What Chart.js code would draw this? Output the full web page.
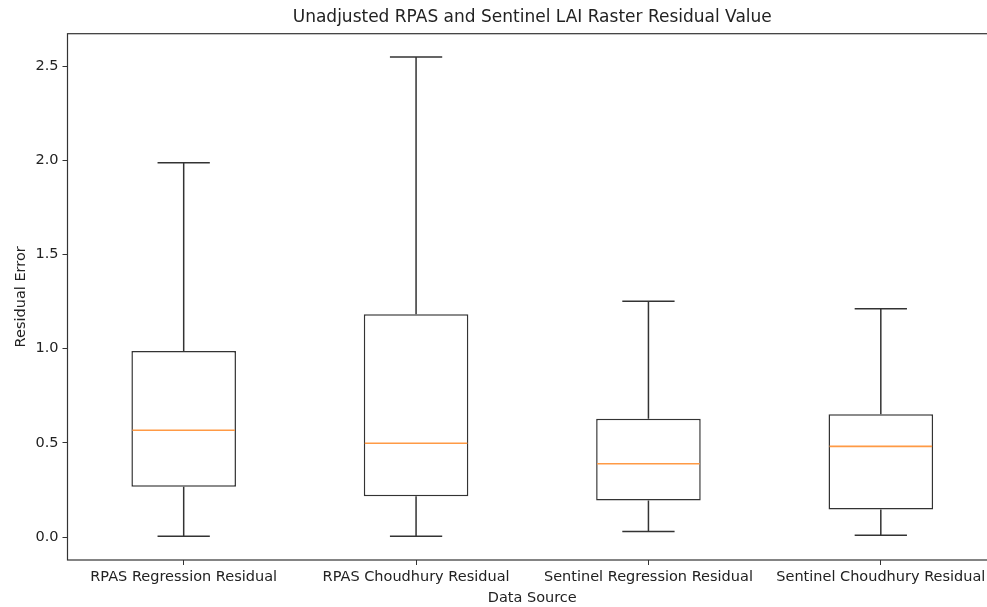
<!DOCTYPE html>
<html>
<head>
<meta charset="utf-8">
<title>Residual boxplot</title>
<script src="https://cdn.jsdelivr.net/npm/chart.js@4.4.1/dist/chart.umd.min.js"></script>
<style>
    html, body { margin: 0; padding: 0; background: #fff; overflow: hidden; }
    #wrap { position: relative; width: 1010px; height: 607px; }
</style>
</head>
<body>
<div id="wrap"><canvas id="boxChart"></canvas></div>
<script>
// box statistics per data source
const categories = [
    'RPAS Regression Residual',
    'RPAS Choudhury Residual',
    'Sentinel Regression Residual',
    'Sentinel Choudhury Residual'
];
const whiskerLow  = [0.004, 0.004, 0.029, 0.010];
const q1          = [0.267, 0.217, 0.194, 0.146];
const median      = [0.567, 0.498, 0.389, 0.481];
const q3          = [0.987, 1.182, 0.628, 0.652];
const whiskerHigh = [1.987, 2.548, 1.251, 1.212];
const yTicks      = [0.0, 0.5, 1.0, 1.5, 2.0, 2.5];

const TITLE = 'Unadjusted RPAS and Sentinel LAI Raster Residual Value';
const LINE = '#333333';
const MEDIAN = '#ff9a45';
const TEXT = '#222222';
const FONT = "'DejaVu Sans', sans-serif";

// whiskers, caps, medians, plot frame and a title centred over the axes
const boxExtras = {
    id: 'boxExtras',
    afterDatasetsDraw(chart) {
        const ctx = chart.ctx;
        const xs = chart.scales.x;
        const ys = chart.scales.y;
        const meta = chart.getDatasetMeta(0);
        ctx.save();
        categories.forEach((cat, i) => {
            const bar = meta.data[i];
            const cx = xs.getPixelForValue(i);
            const half = bar.width / 2;
            const capHalf = half / 2;
            const yHi = ys.getPixelForValue(whiskerHigh[i]);
            const yLo = ys.getPixelForValue(whiskerLow[i]);

            ctx.strokeStyle = LINE;
            ctx.lineWidth = 1.5;
            ctx.beginPath();
            ctx.moveTo(cx, ys.getPixelForValue(q3[i]));
            ctx.lineTo(cx, yHi);
            ctx.moveTo(cx, ys.getPixelForValue(q1[i]));
            ctx.lineTo(cx, yLo);
            ctx.moveTo(cx - capHalf, yHi);
            ctx.lineTo(cx + capHalf, yHi);
            ctx.moveTo(cx - capHalf, yLo);
            ctx.lineTo(cx + capHalf, yLo);
            ctx.stroke();

            const ym = ys.getPixelForValue(median[i]);
            ctx.strokeStyle = MEDIAN;
            ctx.lineWidth = 1.6;
            ctx.beginPath();
            ctx.moveTo(cx - half + 1, ym);
            ctx.lineTo(cx + half - 1, ym);
            ctx.stroke();
        });
        const a = chart.chartArea;
        ctx.strokeStyle = LINE;
        ctx.lineWidth = 1.2;
        ctx.strokeRect(a.left, a.top, a.right - a.left, a.bottom - a.top);

        ctx.fillStyle = TEXT;
        ctx.font = '17px ' + FONT;
        ctx.textAlign = 'center';
        ctx.textBaseline = 'middle';
        ctx.fillText(TITLE, (a.left + a.right) / 2, 18);
        ctx.restore();
    }
};

new Chart(document.getElementById('boxChart'), {
    type: 'bar',
    data: {
        labels: categories,
        datasets: [{
            data: categories.map((c, i) => [q1[i], q3[i]]),
            backgroundColor: '#ffffff',
            borderColor: LINE,
            borderWidth: 1.5,
            borderSkipped: false,
            categoryPercentage: 1.0,
            barPercentage: 0.45
        }]
    },
    options: {
        responsive: true,
        maintainAspectRatio: false,
        animation: false,
        devicePixelRatio: 1,
        layout: { padding: { left: 0, right: 13, top: 33.7, bottom: 0 } },
        plugins: {
            legend: { display: false },
            tooltip: { enabled: false },
            title: { display: false }
        },
        scales: {
            x: {
                offset: true,
                grid: { display: true, offset: false, drawOnChartArea: false, drawTicks: true, tickLength: 5, color: LINE },
                border: { display: false },
                ticks: { color: TEXT, padding: 4, maxRotation: 0, autoSkip: false, font: { family: FONT, size: 14.5 } },
                title: {
                    display: true,
                    text: 'Data Source',
                    color: TEXT,
                    font: { family: FONT, size: 14.5 },
                    padding: { top: 0, bottom: 0 }
                },
                afterFit(scale) { scale.height = 47; }
            },
            y: {
                min: -0.122,
                max: 2.672,
                afterBuildTicks(scale) { scale.ticks = yTicks.map(v => ({ value: v })); },
                grid: { display: true, drawOnChartArea: false, drawTicks: true, tickLength: 5, color: LINE },
                border: { display: false },
                ticks: {
                    color: TEXT,
                    padding: 4,
                    font: { family: FONT, size: 14.5 },
                    callback: v => Number(v).toFixed(1)
                },
                title: {
                    display: true,
                    text: 'Residual Error',
                    color: TEXT,
                    font: { family: FONT, size: 14.5 },
                    padding: { top: 13, bottom: 0 }
                },
                afterFit(scale) { scale.width = 67.5; }
            }
        }
    },
    plugins: [boxExtras]
});
</script>
</body>
</html>
